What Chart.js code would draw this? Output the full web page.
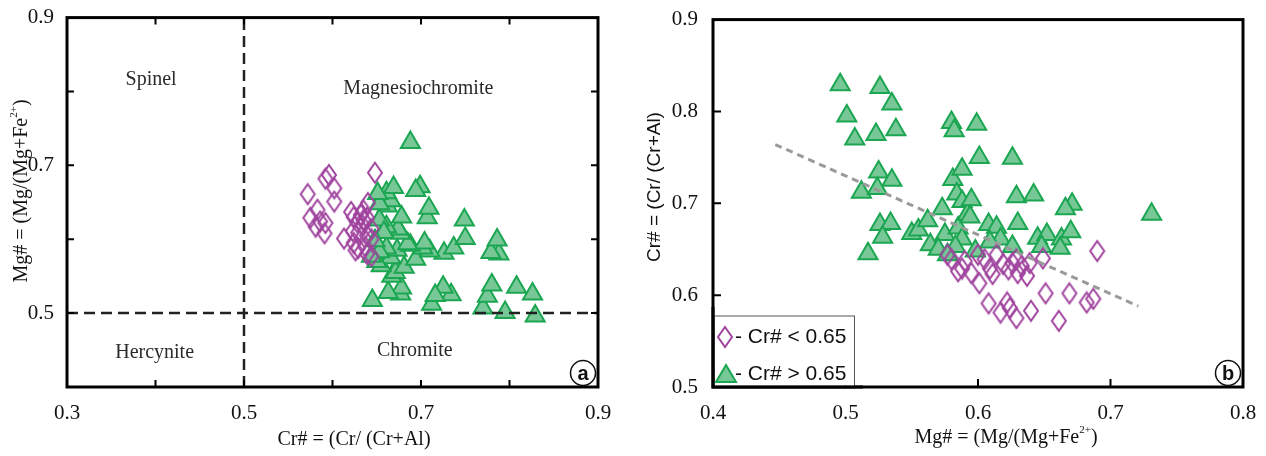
<!DOCTYPE html>
<html>
<head>
<meta charset="utf-8">
<script src="https://cdn.jsdelivr.net/npm/chart.js@4.4.1/dist/chart.umd.min.js"></script>
<style>
  html, body { margin: 0; padding: 0; background: #fff; }
  #wrap { position: relative; width: 1266px; height: 456px; }
  .panel { position: absolute; top: 0; width: 633px; height: 456px; }
  #pa { left: 0; }
  #pb { left: 633px; }
</style>
</head>
<body>
<div id="wrap">
  <div class="panel" id="pa"><canvas id="chartA"></canvas></div>
  <div class="panel" id="pb"><canvas id="chartB"></canvas></div>
</div>
<script>
// Spinel samples with Cr# < 0.65 (diamonds)
const lowMg = [0.577, 0.580, 0.585, 0.588, 0.595, 0.600, 0.601, 0.609, 0.611, 0.614, 0.619,
               0.623, 0.629, 0.630, 0.637, 0.649, 0.690, 0.608, 0.617, 0.622, 0.624, 0.629,
               0.640, 0.651, 0.661, 0.669, 0.682, 0.687, 0.605, 0.626, 0.633, 0.590, 0.639];
const lowCr = [0.644, 0.639, 0.626, 0.629, 0.624, 0.644, 0.613, 0.629, 0.623, 0.644, 0.634,
               0.628, 0.639, 0.624, 0.621, 0.640, 0.648, 0.591, 0.581, 0.592, 0.586, 0.575,
               0.583, 0.602, 0.572, 0.602, 0.592, 0.596, 0.639, 0.635, 0.632, 0.637, 0.635];

// Spinel samples with Cr# > 0.65 (triangles)
const highMg = [0.496, 0.526, 0.535, 0.501, 0.507, 0.523, 0.538, 0.580, 0.582, 0.599, 0.525,
                0.535, 0.512, 0.524, 0.526, 0.534, 0.528, 0.517, 0.550, 0.555, 0.562, 0.573,
                0.564, 0.575, 0.570, 0.581, 0.588, 0.584, 0.588, 0.585, 0.588, 0.592, 0.601,
                0.626, 0.595, 0.629, 0.642, 0.671, 0.666, 0.594, 0.608, 0.614, 0.630, 0.645,
                0.652, 0.663, 0.670, 0.617, 0.626, 0.648, 0.662, 0.731, 0.583, 0.577, 0.609, 0.598];
const highCr = [0.829, 0.826, 0.808, 0.795, 0.770, 0.775, 0.780, 0.788, 0.779, 0.786, 0.734,
                0.725, 0.712, 0.716, 0.677, 0.678, 0.663, 0.645, 0.667, 0.671, 0.681, 0.694,
                0.655, 0.666, 0.650, 0.726, 0.737, 0.710, 0.702, 0.673, 0.661, 0.688, 0.750,
                0.749, 0.704, 0.707, 0.709, 0.699, 0.694, 0.685, 0.677, 0.674, 0.678, 0.662,
                0.666, 0.661, 0.669, 0.661, 0.653, 0.653, 0.651, 0.688, 0.653, 0.644, 0.658, 0.648];

// Field boundaries (panel a) and trend line (panel b)
const crBoundary = 0.5;
const mgBoundary = 0.5;
const trendMg = [0.447, 0.721];
const trendCr = [0.764, 0.588];

// Field names of panel a, placed in data units
const fieldNames = ['Spinel', 'Magnesiochromite', 'Hercynite', 'Chromite'];
const fieldCr = [0.395, 0.697, 0.399, 0.693];
const fieldMg = [0.816, 0.804, 0.446, 0.449];

const SERIF = "'Liberation Serif', 'Times New Roman', serif";
const SANS = "'Liberation Sans', Arial, sans-serif";
const PURPLE = '#a0449e';
const GREEN = '#1ba652';
const GREEN_FILL = '#78c797';

const toPoints = (xs, ys) => xs.map((v, i) => ({ x: v, y: ys[i] }));

// tall diamond marker
function makeDiamond() {
  const c = document.createElement('canvas');
  c.width = 18; c.height = 24;
  const g = c.getContext('2d');
  g.strokeStyle = PURPLE;
  g.lineWidth = 2;
  g.beginPath();
  g.moveTo(9, 2); g.lineTo(16, 12); g.lineTo(9, 22); g.lineTo(2, 12); g.closePath();
  g.stroke();
  return c;
}
const diamond = makeDiamond();

function drawRich(ctx, parts, cx, cy, size, family, rotate) {
  ctx.save();
  ctx.translate(cx, cy);
  if (rotate) ctx.rotate(-Math.PI / 2);
  ctx.fillStyle = '#111';
  ctx.textBaseline = 'middle';
  ctx.textAlign = 'left';
  const supSize = Math.round(size * 0.55);
  let w = 0;
  parts.forEach(p => {
    ctx.font = (p.sup ? supSize : size) + 'px ' + family;
    w += ctx.measureText(p.t).width;
  });
  let x = -w / 2;
  parts.forEach(p => {
    ctx.font = (p.sup ? supSize : size) + 'px ' + family;
    ctx.fillText(p.t, x, p.sup ? -size * 0.38 : 0);
    x += ctx.measureText(p.t).width;
  });
  ctx.restore();
}

function badge(ctx, a, letter) {
  const cx = a.right - 15, cy = a.bottom - 14;
  ctx.save();
  ctx.beginPath();
  ctx.arc(cx, cy, 12.5, 0, Math.PI * 2);
  ctx.fillStyle = '#fff';
  ctx.fill();
  ctx.lineWidth = 1.5;
  ctx.strokeStyle = '#111';
  ctx.stroke();
  ctx.fillStyle = '#111';
  ctx.font = 'bold 20px ' + SANS;
  ctx.textAlign = 'center';
  ctx.textBaseline = 'middle';
  ctx.fillText(letter, cx, cy + 1);
  ctx.restore();
}

// frame, inward ticks, titles
function framePlugin(cfg) {
  return {
    id: 'frame',
    beforeDatasetsDraw(chart) {
      if (cfg.beforeData) cfg.beforeData(chart);
    },
    afterDraw(chart) {
      const { ctx, chartArea: a, scales: { x, y } } = chart;
      ctx.save();
      ctx.strokeStyle = '#000';
      ctx.lineWidth = 2;
      ctx.beginPath();
      x.ticks.forEach(t => {
        const px = x.getPixelForValue(t.value);
        if (px <= a.left + 2 || px >= a.right - 2) return;
        ctx.moveTo(px, a.bottom); ctx.lineTo(px, a.bottom - cfg.len);
        if (cfg.allSides) { ctx.moveTo(px, a.top); ctx.lineTo(px, a.top + cfg.len); }
      });
      y.ticks.forEach(t => {
        const py = y.getPixelForValue(t.value);
        if (py <= a.top + 2 || py >= a.bottom - 2) return;
        ctx.moveTo(a.left, py); ctx.lineTo(a.left + cfg.len, py);
        if (cfg.allSides) { ctx.moveTo(a.right, py); ctx.lineTo(a.right - cfg.len, py); }
      });
      ctx.stroke();
      ctx.lineWidth = 3;
      ctx.strokeRect(a.left, a.top, a.width, a.height);
      ctx.restore();
      cfg.after(chart);
    }
  };
}

function axis(min, max, size, show, pad, family) {
  return {
    type: 'linear',
    min: min,
    max: max,
    grid: { display: false },
    border: { display: false },
    ticks: {
      stepSize: 0.1,
      autoSkip: false,
      maxRotation: 0,
      padding: pad,
      color: '#111',
      font: { family: family, size: 21 },
      callback: v => show(Math.round(v * 10)) ? (Math.round(v * 10) / 10).toFixed(1) : ''
    },
    afterFit: s => {
      if (s.isHorizontal()) s.height = size; else s.width = size;
    }
  };
}

const common = {
  responsive: true,
  maintainAspectRatio: false,
  animation: false,
  events: [],
  plugins: { legend: { display: false }, tooltip: { enabled: false } }
};

// Panel a: Cr# vs Mg#
new Chart(document.getElementById('chartA'), {
  type: 'scatter',
  data: {
    datasets: [
      {
        type: 'line',
        data: [{ x: crBoundary, y: 0.4 }, { x: crBoundary, y: 0.9 }],
        borderColor: '#222', borderWidth: 2.5, borderDash: [11, 6], pointRadius: 0
      },
      {
        type: 'line',
        data: [{ x: 0.3, y: mgBoundary }, { x: 0.9, y: mgBoundary }],
        borderColor: '#222', borderWidth: 2.5, borderDash: [11, 6], pointRadius: 0
      },
      {
        data: toPoints(lowCr, lowMg),
        pointStyle: diamond, pointRadius: 10
      },
      {
        data: toPoints(highCr, highMg),
        pointStyle: 'triangle', pointRadius: 11,
        backgroundColor: GREEN_FILL, borderColor: GREEN, borderWidth: 2
      }
    ]
  },
  options: Object.assign({}, common, {
    layout: { padding: { top: 16, right: 35, left: 0, bottom: 0 } },
    scales: {
      x: axis(0.3, 0.9, 69, k => k % 2 === 1, 6, SERIF),
      y: axis(0.4, 0.9, 67, k => k % 2 === 1, 5, SERIF)
    }
  }),
  plugins: [framePlugin({
    len: 7,
    allSides: true,
    beforeData(chart) {
      const { ctx, scales: { x, y } } = chart;
      ctx.save();
      ctx.fillStyle = '#2a2a2a';
      ctx.font = '20px ' + SERIF;
      ctx.textAlign = 'center';
      ctx.textBaseline = 'middle';
      fieldNames.forEach((n, i) => {
        ctx.fillText(n, x.getPixelForValue(fieldCr[i]), y.getPixelForValue(fieldMg[i]));
      });
      ctx.restore();
    },
    after(chart) {
      const ctx = chart.ctx;
      drawRich(ctx, [{ t: 'Cr# = (Cr/ (Cr+Al)' }], 354, 440, 20, SERIF, false);
      drawRich(ctx, [{ t: 'Mg# = (Mg/(Mg+Fe' }, { t: '2+', sup: true }, { t: ')' }], 22, 191, 20, SERIF, true);
      badge(ctx, chart.chartArea, 'a');
    }
  })]
});

// Panel b: Mg# vs Cr#
new Chart(document.getElementById('chartB'), {
  type: 'scatter',
  data: {
    datasets: [
      {
        type: 'line',
        data: toPoints(trendMg, trendCr),
        borderColor: '#9a9a9a', borderWidth: 3, borderDash: [7, 5], pointRadius: 0
      },
      {
        data: toPoints(lowMg, lowCr),
        pointStyle: diamond, pointRadius: 10
      },
      {
        data: toPoints(highMg, highCr),
        pointStyle: 'triangle', pointRadius: 11,
        backgroundColor: GREEN_FILL, borderColor: GREEN, borderWidth: 2
      }
    ]
  },
  options: Object.assign({}, common, {
    layout: { padding: { top: 16, right: 23, left: 0, bottom: 0 } },
    scales: {
      x: axis(0.4, 0.8, 69, k => true, 6, SERIF),
      y: axis(0.5, 0.9, 80, k => true, 7, SERIF)
    }
  }),
  plugins: [framePlugin({
    len: 8,
    allSides: false,
    after(chart) {
      const { ctx, chartArea: a } = chart;
      // legend box
      ctx.save();
      ctx.fillStyle = '#fff';
      ctx.fillRect(a.left + 1.5, a.bottom - 71, 140, 69.5);
      ctx.strokeStyle = '#555';
      ctx.lineWidth = 1;
      ctx.strokeRect(a.left + 1.5, a.bottom - 71, 140, 72);
      ctx.drawImage(diamond, a.left + 12 - 9, a.bottom - 50 - 12);
      ctx.fillStyle = GREEN_FILL;
      ctx.strokeStyle = GREEN;
      ctx.lineWidth = 2;
      ctx.beginPath();
      ctx.moveTo(a.left + 13, a.bottom - 22);
      ctx.lineTo(a.left + 23, a.bottom - 5);
      ctx.lineTo(a.left + 3, a.bottom - 5);
      ctx.closePath();
      ctx.fill();
      ctx.stroke();
      ctx.fillStyle = '#111';
      ctx.font = '21px ' + SANS;
      ctx.textBaseline = 'middle';
      ctx.fillText('- Cr# < 0.65', a.left + 22, a.bottom - 50);
      ctx.fillText('- Cr# > 0.65', a.left + 22, a.bottom - 13);
      ctx.restore();
      // frame line over the legend edge
      ctx.save();
      ctx.lineWidth = 3;
      ctx.strokeStyle = '#000';
      ctx.beginPath();
      ctx.moveTo(a.left, a.bottom - 80); ctx.lineTo(a.left, a.bottom); ctx.lineTo(a.left + 150, a.bottom);
      ctx.stroke();
      ctx.restore();
      drawRich(ctx, [{ t: 'Mg# = (Mg/(Mg+Fe' }, { t: '2+', sup: true }, { t: ')' }], 1006 - 633, 438, 20, SERIF, false);
      drawRich(ctx, [{ t: 'Cr# = (Cr/ (Cr+Al)' }], 655 - 633, 187, 19, SANS, true);
      badge(ctx, a, 'b');
    }
  })]
});
</script>
</body>
</html>
